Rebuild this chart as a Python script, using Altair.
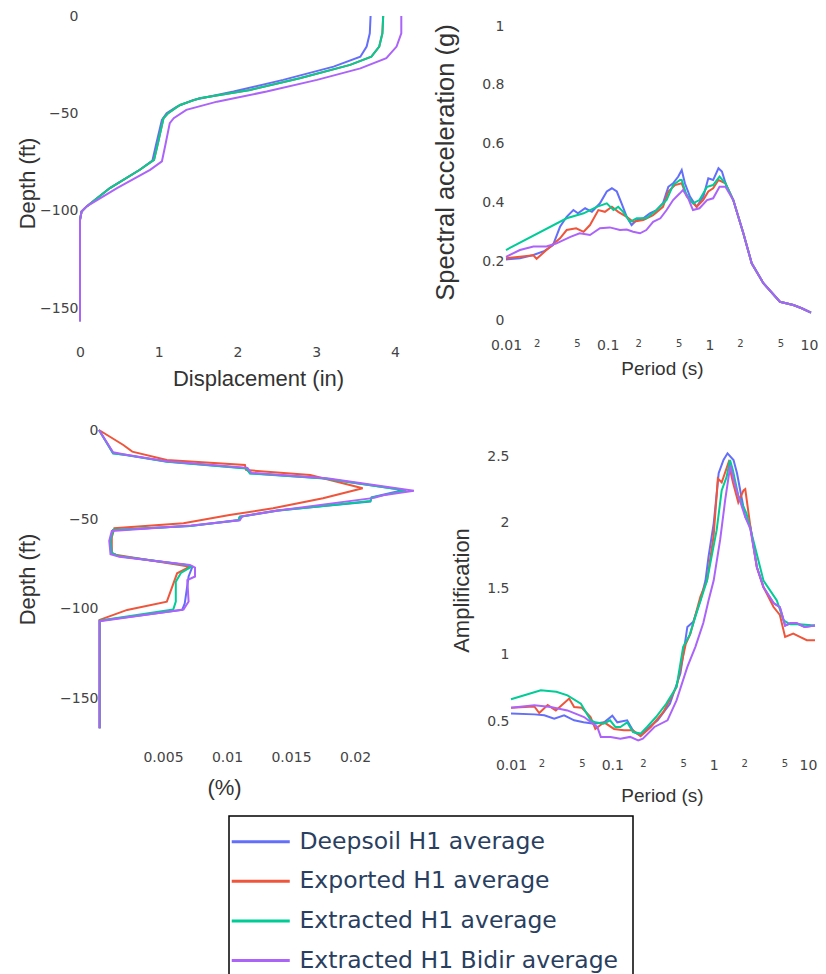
import altair as alt
import pandas as pd

SERIES = ["Deepsoil H1 average", "Exported H1 average",
          "Extracted H1 average", "Extracted H1 Bidir average"]
COLORS = ["#636efa", "#EF553B", "#00cc96", "#ab63fa"]

# ---------------- Panel 1: displacement (in) vs depth (ft)
disp_deepsoil = [3.69, 3.68, 3.64, 3.56, 3.22, 2.58, 1.95, 1.44, 1.23, 1.10, 1.04, 0.97, 0.92, 0.76, 0.38, 0.085, 0.02, 0.0, 0.0]
depth_deepsoil = [0, -8.9, -15.7, -20.9, -26, -32.8, -38.8, -43.1, -46.5, -49.9, -53.4, -65.3, -74.2, -79, -88.4, -97.8, -100.4, -104.7, -156.8]
disp_exported = [3.85, 3.84, 3.80, 3.70, 3.43, 2.79, 2.16, 1.52, 1.27, 1.12, 1.06, 0.99, 0.94, 0.76, 0.38, 0.085, 0.02, 0.0, 0.0]
depth_exported = [0, -8.9, -15.7, -20.9, -25.1, -32, -38, -42.2, -45.7, -49.9, -52.5, -65.3, -73.9, -79, -88.4, -97.8, -100.4, -104.7, -156.8]
disp_extracted = [3.85, 3.84, 3.80, 3.70, 3.43, 2.79, 2.16, 1.52, 1.27, 1.12, 1.06, 0.99, 0.94, 0.76, 0.38, 0.085, 0.02, 0.0, 0.0]
depth_extracted = [0, -8.9, -15.7, -20.9, -25.1, -32, -38, -42.2, -45.7, -49.9, -52.5, -65.3, -73.9, -79, -88.4, -97.8, -100.4, -104.7, -156.8]
disp_bidir = [4.08, 4.08, 4.02, 3.89, 3.56, 3.01, 2.37, 1.74, 1.35, 1.19, 1.14, 1.08, 1.04, 0.89, 0.47, 0.085, 0.02, 0.0, 0.0]
depth_bidir = [0, -8.9, -15.7, -21.7, -26.9, -32.8, -38.8, -44, -48.2, -52.5, -55, -67, -74.7, -79, -88.4, -97.8, -100.4, -104.7, -156.8]

# ---------------- Panel 2: spectral acceleration (g) vs period (s)
sa_tail_t = [1.72, 2.16, 2.61, 3.4, 4.95, 6.7, 8.1, 10]
sa_tail_v = [0.408, 0.295, 0.193, 0.125, 0.062, 0.051, 0.040, 0.025]
sa_deepsoil_t = [0.01, 0.0137, 0.0186, 0.024, 0.029, 0.034, 0.0395, 0.046, 0.051, 0.06, 0.07, 0.084, 0.098, 0.11, 0.123, 0.137, 0.154, 0.172, 0.193, 0.224, 0.26, 0.303, 0.35, 0.395, 0.44, 0.495, 0.535, 0.575, 0.645, 0.75, 0.873, 0.977, 1.09, 1.23, 1.33, 1.48]
sa_deepsoil_v = [0.206, 0.21, 0.221, 0.235, 0.255, 0.317, 0.351, 0.374, 0.363, 0.38, 0.368, 0.397, 0.437, 0.448, 0.437, 0.397, 0.351, 0.323, 0.34, 0.346, 0.363, 0.374, 0.397, 0.453, 0.465, 0.488, 0.51, 0.465, 0.42, 0.385, 0.42, 0.482, 0.476, 0.516, 0.505, 0.453]
sa_exported_t = [0.01, 0.0137, 0.0186, 0.02, 0.025, 0.034, 0.0395, 0.049, 0.058, 0.067, 0.081, 0.094, 0.11, 0.127, 0.154, 0.178, 0.224, 0.28, 0.35, 0.395, 0.46, 0.535, 0.6, 0.645, 0.75, 0.87, 0.977, 1.09, 1.23, 1.44]
sa_exported_v = [0.21, 0.215, 0.22, 0.208, 0.238, 0.278, 0.306, 0.312, 0.3, 0.323, 0.374, 0.368, 0.385, 0.368, 0.351, 0.334, 0.34, 0.357, 0.385, 0.437, 0.459, 0.465, 0.42, 0.408, 0.385, 0.408, 0.437, 0.448, 0.476, 0.465]
sa_extracted_t = [0.01, 0.0395, 0.058, 0.078, 0.098, 0.114, 0.127, 0.142, 0.166, 0.193, 0.24, 0.303, 0.38, 0.44, 0.514, 0.535, 0.59, 0.69, 0.8, 0.95, 1.09, 1.26, 1.44]
sa_extracted_v = [0.238, 0.346, 0.363, 0.385, 0.397, 0.374, 0.385, 0.368, 0.334, 0.346, 0.346, 0.374, 0.408, 0.459, 0.476, 0.476, 0.43, 0.397, 0.408, 0.453, 0.459, 0.488, 0.465]
sa_bidir_t = [0.01, 0.0137, 0.0186, 0.025, 0.031, 0.043, 0.053, 0.067, 0.084, 0.105, 0.132, 0.154, 0.178, 0.208, 0.24, 0.28, 0.33, 0.38, 0.44, 0.51, 0.55, 0.62, 0.69, 0.8, 0.95, 1.09, 1.26, 1.44]
sa_bidir_v = [0.215, 0.238, 0.25, 0.25, 0.26, 0.283, 0.295, 0.289, 0.312, 0.315, 0.306, 0.308, 0.3, 0.295, 0.306, 0.334, 0.346, 0.374, 0.408, 0.43, 0.442, 0.414, 0.374, 0.38, 0.408, 0.414, 0.453, 0.453]

# ---------------- Panel 3: strain (%) vs depth (ft)
strain_deepsoil = [0, 0.0011, 0.0022, 0.0053, 0.0115, 0.0118, 0.0175, 0.0238, 0.0213, 0.0212, 0.0139, 0.0110, 0.0109, 0.0071, 0.0011, 0.0009, 0.0010, 0.0015, 0.0068, 0.0073, 0.0070, 0.0067, 0.0065, 0.00005, 0.00005]
sdepth_deepsoil = [0, -13, -14, -17.7, -21.4, -24.2, -27, -33.6, -37.7, -40, -45.1, -48.5, -50.4, -53.7, -56, -62, -69, -70.5, -75.5, -76.5, -82, -97, -100.7, -106.7, -167]
strain_exported = [0, 0.0019, 0.0026, 0.0053, 0.0114, 0.0115, 0.0165, 0.0206, 0.0175, 0.0136, 0.0102, 0.0066, 0.0012, 0.0010, 0.0010, 0.0014, 0.0063, 0.0071, 0.0061, 0.0053, 0.0022, 0.00005, 0.00005]
sdepth_exported = [0, -8.4, -12.1, -16.8, -19.6, -22.4, -25.2, -32.6, -38.2, -43.8, -47.6, -52.2, -55, -60, -68.8, -70, -75.5, -76.5, -80.2, -96.1, -100.7, -106.3, -167]
strain_extracted = [0, 0.0011, 0.0022, 0.0053, 0.0115, 0.0118, 0.0176, 0.0240, 0.0213, 0.0212, 0.0139, 0.0110, 0.0109, 0.0071, 0.0011, 0.0009, 0.0010, 0.0015, 0.0068, 0.0072, 0.0064, 0.0060, 0.0060, 0.0058, 0.00005, 0.00005]
sdepth_extracted = [0, -13, -14.2, -17.8, -21.5, -24.3, -27.2, -33.8, -37.8, -39.8, -45.2, -48.6, -50.5, -53.8, -56, -62, -69, -70.5, -75.5, -76.6, -80, -85, -96, -100.5, -106.7, -167]
strain_bidir = [0, 0.0011, 0.0022, 0.0053, 0.0116, 0.0119, 0.0178, 0.0246, 0.0222, 0.0215, 0.0140, 0.0112, 0.0110, 0.0072, 0.0010, 0.0008, 0.0009, 0.0016, 0.0071, 0.0075, 0.0075, 0.0069, 0.0070, 0.0066, 0.00005, 0.00005]
sdepth_bidir = [0, -12.5, -14, -17.5, -21.2, -24, -27, -34, -36.5, -38, -45, -48.3, -50.5, -53.5, -56.5, -62, -69.5, -71, -75.5, -77, -82, -84, -96, -100.5, -107, -167]

# ---------------- Panel 4: amplification vs period (s)
amp_deepsoil_t = [0.01, 0.017, 0.0213, 0.0267, 0.0334, 0.042, 0.052, 0.066, 0.083, 0.1, 0.112, 0.14, 0.163, 0.19, 0.22, 0.28, 0.37, 0.47, 0.55, 0.63, 0.74, 0.83, 0.89, 1.0, 1.08, 1.12, 1.25, 1.37, 1.57, 1.7, 1.83, 2.05, 2.3, 2.67, 3.1, 3.9, 4.5, 5.07, 5.7, 6.6, 7.9, 10]
amp_deepsoil_v = [0.556, 0.55, 0.543, 0.518, 0.543, 0.505, 0.49, 0.48, 0.49, 0.54, 0.49, 0.505, 0.417, 0.39, 0.44, 0.505, 0.63, 0.86, 1.21, 1.25, 1.41, 1.56, 1.74, 1.99, 2.24, 2.37, 2.47, 2.52, 2.47, 2.37, 2.24, 2.04, 1.97, 1.66, 1.51, 1.39, 1.36, 1.22, 1.236, 1.236, 1.21, 1.22]
amp_exported_t = [0.01, 0.017, 0.019, 0.023, 0.0277, 0.0375, 0.042, 0.05, 0.061, 0.068, 0.083, 0.104, 0.13, 0.16, 0.19, 0.24, 0.32, 0.43, 0.53, 0.59, 0.74, 0.86, 1.0, 1.1, 1.2, 1.4, 1.55, 1.75, 1.97, 2.05, 2.3, 2.67, 3.1, 3.9, 4.5, 5.07, 6.1, 7.1, 8.3, 10]
amp_exported_v = [0.60, 0.61, 0.56, 0.62, 0.58, 0.67, 0.606, 0.6, 0.53, 0.44, 0.49, 0.44, 0.43, 0.43, 0.385, 0.455, 0.57, 0.757, 1.08, 1.16, 1.44, 1.56, 1.9, 2.33, 2.3, 2.45, 2.3, 2.15, 2.24, 2.25, 1.97, 1.66, 1.51, 1.36, 1.3, 1.135, 1.16, 1.135, 1.11, 1.11]
amp_extracted_t = [0.01, 0.0197, 0.028, 0.0361, 0.0489, 0.0613, 0.068, 0.082, 0.095, 0.107, 0.12, 0.14, 0.16, 0.19, 0.22, 0.27, 0.34, 0.43, 0.5, 0.58, 0.7, 0.86, 1.07, 1.2, 1.34, 1.45, 1.55, 1.75, 2.1, 2.45, 3.1, 4.2, 4.9, 5.7, 7.0, 10]
amp_extracted_v = [0.664, 0.732, 0.72, 0.694, 0.631, 0.505, 0.49, 0.48, 0.505, 0.455, 0.455, 0.49, 0.417, 0.405, 0.455, 0.53, 0.63, 0.757, 1.06, 1.15, 1.35, 1.56, 1.94, 2.24, 2.34, 2.47, 2.39, 2.2, 2.07, 1.87, 1.56, 1.41, 1.26, 1.23, 1.23, 1.22]
amp_bidir_t = [0.01, 0.017, 0.0247, 0.036, 0.0526, 0.071, 0.077, 0.096, 0.12, 0.15, 0.18, 0.2, 0.26, 0.35, 0.43, 0.55, 0.66, 0.79, 0.89, 1.0, 1.16, 1.3, 1.46, 1.6, 1.75, 2.05, 2.3, 2.67, 3.1, 3.9, 4.5, 5.07, 5.7, 6.6, 7.9, 10]
amp_bidir_v = [0.60, 0.619, 0.606, 0.58, 0.53, 0.455, 0.38, 0.38, 0.367, 0.38, 0.354, 0.367, 0.455, 0.505, 0.656, 0.908, 1.06, 1.24, 1.41, 1.56, 1.87, 2.17, 2.43, 2.3, 2.2, 2.04, 1.95, 1.66, 1.51, 1.39, 1.36, 1.22, 1.24, 1.24, 1.21, 1.22]


def frame(pairs):
    rows = []
    for name, (xs, ys) in zip(SERIES, pairs):
        for i, (a, b) in enumerate(zip(xs, ys)):
            rows.append({"series": name, "x": a, "y": b, "i": i})
    return pd.DataFrame(rows)


df_disp = frame([(disp_deepsoil, depth_deepsoil), (disp_exported, depth_exported),
                 (disp_extracted, depth_extracted), (disp_bidir, depth_bidir)])
df_sa = frame([(sa_deepsoil_t + sa_tail_t, sa_deepsoil_v + sa_tail_v),
               (sa_exported_t + sa_tail_t, sa_exported_v + sa_tail_v),
               (sa_extracted_t + sa_tail_t, sa_extracted_v + sa_tail_v),
               (sa_bidir_t + sa_tail_t, sa_bidir_v + sa_tail_v)])
df_strain = frame([(strain_deepsoil, sdepth_deepsoil), (strain_exported, sdepth_exported),
                   (strain_extracted, sdepth_extracted), (strain_bidir, sdepth_bidir)])
df_amp = frame([(amp_deepsoil_t, amp_deepsoil_v), (amp_exported_t, amp_exported_v),
                (amp_extracted_t, amp_extracted_v), (amp_bidir_t, amp_bidir_v)])

W, H = 810, 990

AX = dict(labelFont="DejaVu Sans", labelColor="#444", labelFontSize=14,
          domain=False, ticks=False, grid=False, labelFlush=False, labelOverlap=False,
          titleFont="Liberation Sans", titleColor="#333", titleFontWeight="normal",
          titleFontSize=22, titleAlign="center", titleBaseline="middle")

LOG_TICKS = [0.01, 0.02, 0.05, 0.1, 0.2, 0.5, 1, 2, 5, 10]
LOG_EXPR = ("(datum.value==0.02||datum.value==0.2||datum.value==2) ? '2' : "
            "(datum.value==0.05||datum.value==0.5||datum.value==5) ? '5' : format(datum.value, '~g')")
LOG_SIZE = {"condition": {"test": "datum.value==0.01||datum.value==0.1||datum.value==1||datum.value==10",
                          "value": 14}, "value": 10}


def last_shift(px):
    return {"condition": {"test": "datum.value==10", "value": px}, "value": 0}


legend = alt.Legend(orient="none", legendX=221, legendY=808, title=None, direction="vertical",
                    symbolType="M-3,0H3", symbolSize=374, symbolStrokeWidth=3,
                    symbolOffset=6, labelOffset=27,
                    labelFont="DejaVu Sans", labelFontSize=23.5, labelColor="#2a3f5f",
                    labelLimit=600, padding=14, rowPadding=14.6,
                    strokeColor="black", fillColor="white")

color = alt.Color("series:N", scale=alt.Scale(domain=SERIES, range=COLORS), legend=legend)

p1 = alt.Chart(df_disp).mark_line(strokeWidth=2).encode(
    x=alt.X("x:Q", scale=alt.Scale(domain=[0, 4], range=[72, 387], nice=False, zero=False),
            axis=alt.Axis(orient="bottom", offset=335 - H, values=[0, 1, 2, 3, 4], labelPadding=2,
                          title="Displacement (in)", titleX=250, titleY=35, **AX)),
    y=alt.Y("y:Q", scale=alt.Scale(domain=[-150, 0], range=[300, 8], nice=False, zero=False),
            axis=alt.Axis(orient="left", offset=-72, values=[-150, -100, -50, 0], format="d",
                          labelPadding=2, title="Depth (ft)", titleX=-53, titleY=175, **AX)),
    color=color, order="i:Q")

p2 = alt.Chart(df_sa).mark_line(strokeWidth=2).encode(
    x=alt.X("x:Q", scale=alt.Scale(type="log", domain=[0.01, 10], range=[498, 803], nice=False),
            axis=alt.Axis(orient="bottom", offset=328 - H, values=LOG_TICKS, labelExpr=LOG_EXPR,
                          labelPadding=2, title="Period (s)", titleX=654, titleY=32,
                          labelOffset=last_shift(-2),
                          **{**AX, "labelFontSize": LOG_SIZE, "titleFontSize": 19})),
    y=alt.Y("y:Q", scale=alt.Scale(domain=[0, 1], range=[312, 18], nice=False, zero=False),
            axis=alt.Axis(orient="left", offset=-498, values=[0, 0.2, 0.4, 0.6, 0.8, 1], format="~g",
                          labelPadding=2, title="Spectral acceleration (g)", titleX=-61, titleY=154,
                          **{**AX, "titleFontSize": 25.5})),
    color=color, order="i:Q")

p3 = alt.Chart(df_strain).mark_line(strokeWidth=2).encode(
    x=alt.X("x:Q", scale=alt.Scale(domain=[0, 0.02], range=[91, 347], nice=False, zero=False),
            axis=alt.Axis(orient="bottom", offset=740 - H, values=[0.005, 0.01, 0.015, 0.02],
                          format=".3~f", labelPadding=2, title="(%)", titleX=216, titleY=39, **AX)),
    y=alt.Y("y:Q", scale=alt.Scale(domain=[-150, 0], range=[690, 422], nice=False, zero=False),
            axis=alt.Axis(orient="left", offset=-91, values=[-150, -100, -50, 0], format="d",
                          labelPadding=1, title="Depth (ft)", titleX=-72, titleY=571, **AX)),
    color=color, order="i:Q")

p4 = alt.Chart(df_amp).mark_line(strokeWidth=2).encode(
    x=alt.X("x:Q", scale=alt.Scale(type="log", domain=[0.01, 10], range=[503, 807], nice=False),
            axis=alt.Axis(orient="bottom", offset=748 - H, values=LOG_TICKS, labelExpr=LOG_EXPR,
                          labelPadding=2, title="Period (s)", titleX=654, titleY=39,
                          labelOffset=last_shift(-7),
                          **{**AX, "labelFontSize": LOG_SIZE, "titleFontSize": 19})),
    y=alt.Y("y:Q", scale=alt.Scale(domain=[0.5, 2.5], range=[713, 448], nice=False, zero=False),
            axis=alt.Axis(orient="left", offset=-503, values=[0.5, 1, 1.5, 2, 2.5], format="~g",
                          labelPadding=2, title="Amplification", titleX=-50, titleY=582, **AX)),
    color=color, order="i:Q")

chart = alt.layer(p1, p2, p3, p4).resolve_scale(
    x="independent", y="independent"
).properties(
    width=W, height=H, autosize=alt.AutoSizeParams(type="none"), padding=0,
    background="white"
).configure_view(stroke=None).configure_legend(strokeWidth=1.5)

chart.save("out.html", embed_options={"renderer": "svg", "actions": False})
